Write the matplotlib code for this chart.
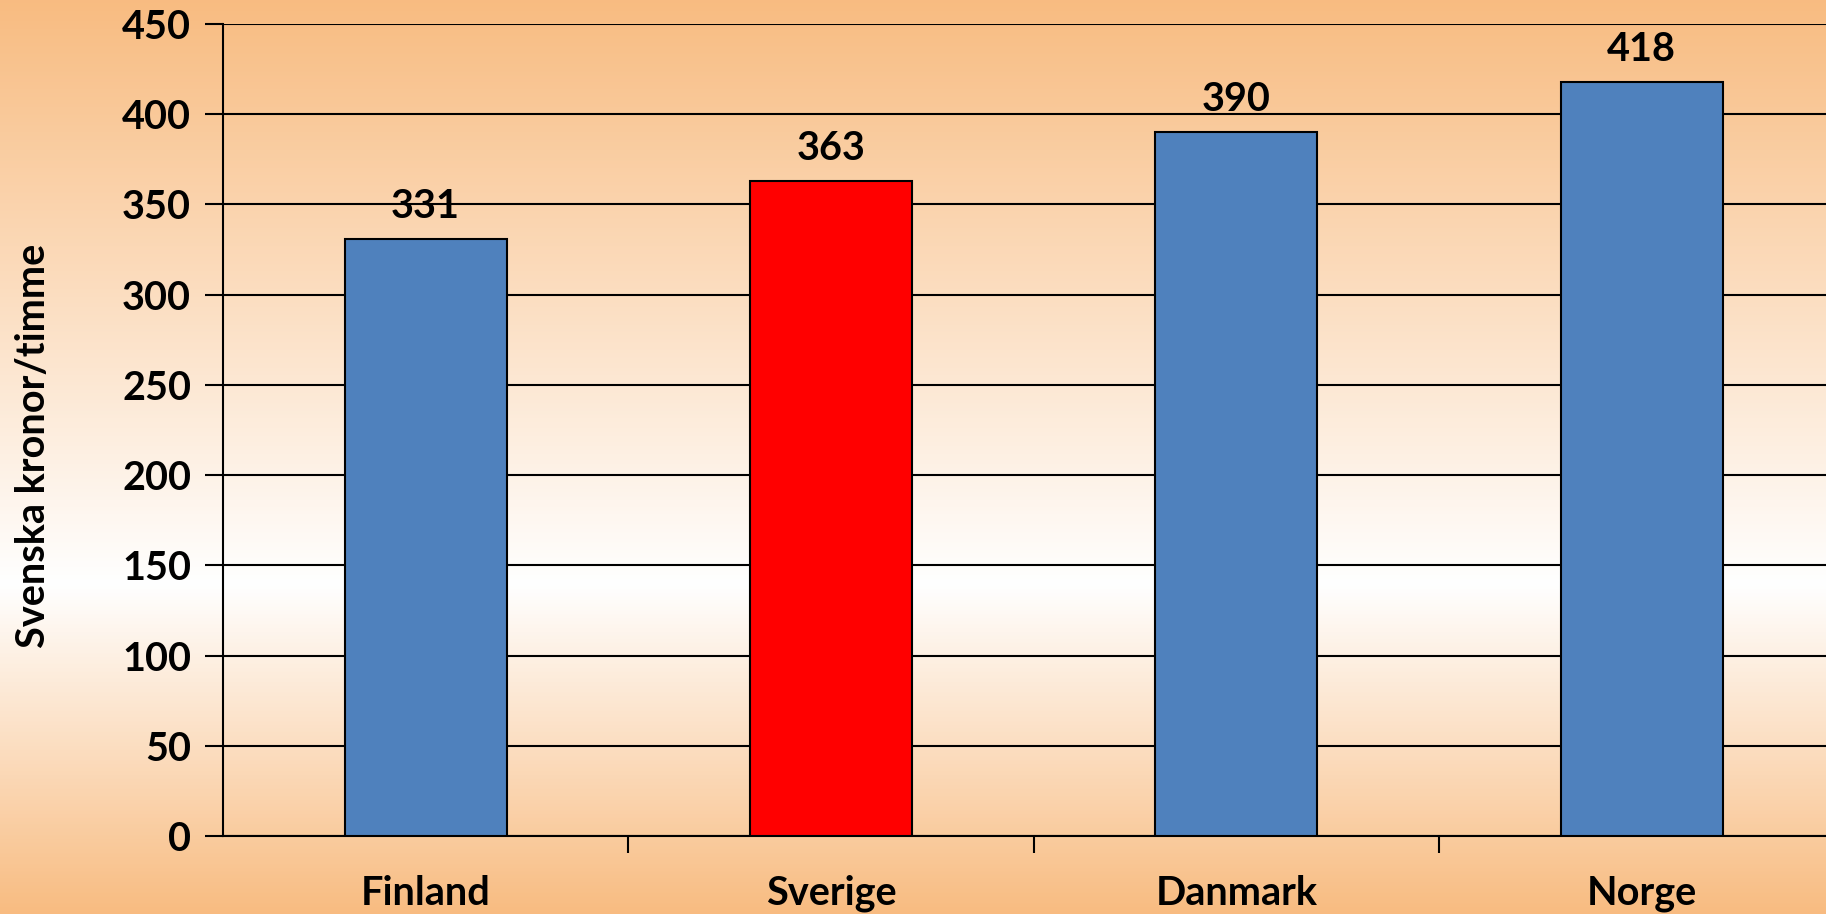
import numpy as np
import matplotlib.pyplot as plt
from matplotlib.colors import LinearSegmentedColormap


# Data
countries = ['Finland', 'Sverige', 'Danmark', 'Norge']
values = [331, 363, 390, 418]
bar_colors = ['#4F81BD', '#FF0000', '#4F81BD', '#4F81BD']
y_ticks = [0, 50, 100, 150, 200, 250, 300, 350, 400, 450]

plt.rcParams['font.family'] = ['Lato', 'DejaVu Sans']
plt.rcParams['font.weight'] = 'bold'

fig = plt.figure(figsize=(18.26, 9.14), dpi=100)

# Background gradient: orange at top and bottom, white a bit below the middle
bg = fig.add_axes([0, 0, 1, 1], zorder=-10)
orange = (0.973, 0.737, 0.506)
cmap = LinearSegmentedColormap.from_list(
    'bg', [(0.0, orange), (0.36, (1, 1, 1)), (1.0, orange)])
grad = np.linspace(0, 1, 512).reshape(-1, 1)
bg.imshow(grad, aspect='auto', cmap=cmap, origin='lower', extent=[0, 1, 0, 1])
bg.axis('off')

# Main axes
ax = fig.add_axes([223 / 1826, 78 / 914, 1 - 223 / 1826, 812 / 914])
ax.patch.set_alpha(0)

x = np.arange(len(countries))
bars = ax.bar(x, values, width=0.40, color=bar_colors,
              edgecolor='black', linewidth=1.5, zorder=3)

for b, v in zip(bars, values):
    ax.annotate(str(v), (b.get_x() + b.get_width() / 2, v),
                xytext=(0, 10), textcoords='offset points',
                ha='center', va='bottom', fontsize=28.5, fontweight='bold')

ax.set_yticks(y_ticks)
ax.set_yticklabels([str(t) for t in y_ticks], fontsize=28.5, fontweight='bold')
ax.yaxis.grid(True, color='black', linewidth=1.5, zorder=0)
ax.set_axisbelow(True)

# Category ticks between groups, labels under bars
ax.set_xticks(x[:-1] + 0.5, minor=False)
ax.set_xticklabels([])
ax.set_xticks(x, minor=True)
ax.set_xticklabels(countries, minor=True, fontsize=28.5, fontweight='bold')
ax.tick_params(axis='x', which='minor', length=0, pad=28)
ax.tick_params(axis='x', which='major', length=12, width=1.5, direction='out')
ax.tick_params(axis='y', length=13, width=1.5, pad=10)

# plot area runs past the right edge of the slide
ax.set_ylim(0, 450)
ax.set_xlim(-0.5, 3.455)

for s in ['top', 'right']:
    ax.spines[s].set_visible(False)
ax.spines['left'].set_linewidth(1.5)
ax.spines['bottom'].set_linewidth(1.5)

ax.set_ylabel('Svenska kronor/timme', fontsize=28.5, fontweight='bold')
ax.yaxis.set_label_coords(-0.1066, 0.48)

fig.savefig('out.png', dpi=100)
